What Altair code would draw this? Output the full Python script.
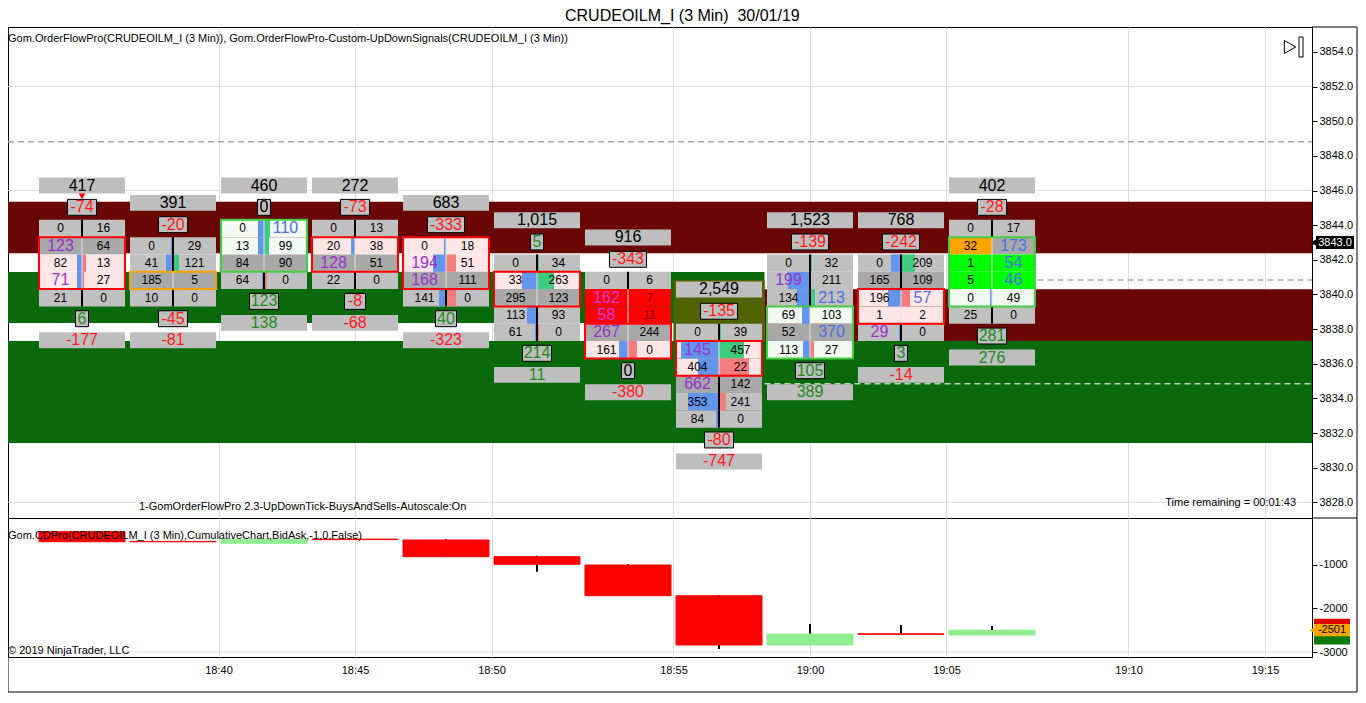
import json
import altair as alt
import pandas as pd

FONT = "Liberation Sans"

# ================= data =================
bar_times = ["18:36", "18:39", "18:42", "18:45", "18:48", "18:51", "18:54", "18:57", "19:00", "19:03", "19:06"]
bar_volume = [417, 391, 460, 272, 683, 1015, 916, 2549, 1523, 768, 402]
bar_delta = [-74, -20, 0, -73, -333, 5, -343, -135, -139, -242, -28]
signal_value = [6, -45, 123, -8, 40, 214, 0, -80, 105, 3, 281]
session_value = [-177, -81, 138, -68, -323, 11, -380, -747, 389, -14, 276]
bar_high = [3844, 3843, 3844, 3844, 3843, 3842, 3841, 3838, 3842, 3842, 3844]

bid_volume = [
    [0, 123, 82, 71, 21],
    [0, 41, 185, 10],
    [0, 13, 84, 64],
    [0, 20, 128, 22],
    [0, 194, 168, 141],
    [0, 33, 295, 113, 61],
    [0, 162, 58, 267, 161],
    [0, 145, 404, 662, 353, 84],
    [0, 199, 134, 69, 52, 113],
    [0, 165, 196, 1, 29],
    [0, 32, 1, 5, 0, 25],
]
ask_volume = [
    [16, 64, 13, 27, 0],
    [29, 121, 5, 0],
    [110, 99, 90, 0],
    [13, 38, 51, 0],
    [18, 51, 111, 0],
    [34, 263, 123, 93, 0],
    [6, 7, 11, 244, 0],
    [39, 457, 22, 142, 241, 0],
    [32, 211, 213, 103, 370, 27],
    [209, 109, 57, 2, 0],
    [17, 173, 54, 46, 49, 0],
]
# cell state: o outside, P point of control, s sell zone, b buy zone, R strong sell, L strong buy, O absorption
bid_state = ["oPsso", "ooPo", "bbPo", "osPo", "ssPo", "osPoo", "oRRPs", "ossPoo", "ooobPb", "oPsso", "oOLLbo"]
ask_state = ["oPsso", "ooPo", "bbPo", "osPo", "ssPo", "osPoo", "oRRPs", "ossPoo", "ooobPb", "oPsso", "oPLLbo"]
# imbalance flags: . none, p bid imbalance, a ask imbalance, m bid imbalance on strong sell, r ask on strong sell
bid_flag = [".p.p.", "....", "....", "..p.", ".pp.", ".....", ".mmp.", ".p.p..", ".p....", "....p", "......"]
ask_flag = [".....", "....", "a...", "....", "....", ".....", ".rr..", "......", "..a.a.", "..a..", ".aaa.."]
# relative volume histogram inside the cells
bid_bar = [[0, 0, 5, 5, 0], [2, 7, 0, 0], [6, 6, 0, 2], [0, 4, 0, 0], [2, 13, 0, 7], [0, 15, 0, 10, 2],
           [0, 0, 0, 0, 9], [0, 38, 21, 0, 31, 3], [0, 22, 13, 8, 0, 7], [10, 0, 13, 0, 2], [0, 0, 0, 0, 2, 0]]
ask_bar = [[0, 0, 4, 2, 0], [0, 6, 0, 0], [6, 5, 0, 3], [0, 0, 0, 0], [0, 10, 0, 10], [2, 17, 0, 0, 2],
           [0, 0, 0, 0, 9], [2, 25, 30, 0, 7, 0], [2, 0, 5, 0, 0, 4], [14, 0, 9, 0, 0], [0, 0, 0, 0, 0, 0]]
zone_kind = ["sell", "absorb", "buy", "sell", "sell", "sell", "sell", "sell", "buy", "sell", "buy"]
zone_first = [1, 2, 0, 1, 0, 1, 3, 1, 3, 2, 1]
zone_last = [3, 2, 2, 2, 2, 2, 4, 2, 5, 3, 4]
signal_down_bars = [0]

band_kind = ["resistance", "support", "active", "resistance", "support"]
band_top = [3845.35, 3841.30, 3840.85, 3840.30, 3837.32]
band_bottom = [3842.38, 3838.35, 3837.32, 3837.32, 3831.42]
band_start = ["start", "start", 6.5, 7.5, "start"]
band_end = ["end", 7.5, 7.5, "end", "end"]

level_price = [3848.82, 3840.84, 3834.84]
level_start = ["start", 10.5, 7.5]
level_kind = ["gray", "gray", "light"]

grid_prices = [3852, 3846, 3840, 3834, 3828]
price_ticks = [3854, 3852, 3850, 3848, 3846, 3844, 3842, 3840, 3838, 3836, 3834, 3832, 3830, 3828]
time_tick_pos = [1.5, 3, 4.5, 6.5, 8, 9.5, 11.5, 13]
time_tick_label = ["18:40", "18:45", "18:50", "18:55", "19:00", "19:05", "19:10", "19:15"]
price_last = 3843.0

cd_open = [-250, -472, -515, -420, -440, -822, -1011, -1713, -2840, -2585, -2611]
cd_close = [-479, -480, -424, -430, -822, -995, -1713, -2840, -2589, -2595, -2501]
cd_high = [-250, -472, -424, -420, -417, -800, -995, -1697, -2360, -2383, -2406]
cd_low = [-479, -480, -515, -430, -822, -1165, -1713, -2931, -2840, -2595, -2611]
cd_ticks = [-1000, -2000, -3000]
cd_grid = [-3000]
cd_last = -2501

title_text = "CRUDEOILM_I (3 Min)\u00a0 30/01/19"
main_label = "Gom.OrderFlowPro(CRUDEOILM_I (3 Min)), Gom.OrderFlowPro-Custom-UpDownSignals(CRUDEOILM_I (3 Min))"
mode_label = "1-GomOrderFlowPro 2.3-UpDownTick-BuysAndSells-Autoscale:On"
time_label = "Time remaining = 00:01:43"
cd_label = "Gom.CDPro(CRUDEOILM_I (3 Min),CumulativeChart,BidAsk,-1,0,False)"
copy_label = "\u00a9 2019 NinjaTrader, LLC"

# ================= layout / style =================
W = 1304
H_MAIN = 491
H_LOW = 139
FRAME_R = 1349
FRAME_B = 174
XMIN, XMAX = -0.8132, 13.5165
YMIN, YMAX = 3827.095, 3855.443
LMIN, LMAX = -3114, 63
PX = W / (XMAX - XMIN)
HALF = 43 / PX
ROW_SHIFT = -0.19
BOX_H = 0.46

state_fill = {"o": "#C0C0C0", "P": "#A8A8A8", "s": "#FFE6E6", "b": "#F0FAF0",
              "R": "#FF0000", "L": "#00FF00", "O": "#FFA500"}
flag_style = {".": ("#000000", 12), "p": ("#9932CC", 16), "a": ("#4A6FE3", 16),
              "m": ("#D23CE0", 16), "r": ("#800000", 12)}
zone_color = {"sell": "#FF0000", "buy": "#44CC44", "absorb": "#F5A300"}
band_color = {"resistance": "#6A0606", "support": "#0A690A", "active": "#4F6300"}
level_color = {"gray": "#A6A6A6", "light": "#B8D4B8"}
BLUE, GREENH, SALMON = "#6495ED", "#3CCB7F", "#F47C7C"
RED, GREEN = "#FF1A1A", "#228B22"


def vcolor(v):
    return RED if v < 0 else (GREEN if v > 0 else "#000000")


def xpos(v, default):
    return default if isinstance(v, str) else v


# ================= build tables =================
cells, ctext, hists, seps, borders = [], [], [], [], []
for i in range(len(bar_times)):
    n = len(bid_volume[i])
    for k in range(n):
        p = bar_high[i] - k + ROW_SHIFT
        inside = zone_first[i] <= k <= zone_last[i]
        b, a = bid_volume[i][k], ask_volume[i][k]
        for vol, st, fl, sgn in ((b, bid_state[i][k], bid_flag[i][k], -1),
                                 (a, ask_state[i][k], ask_flag[i][k], 1)):
            x0, x1 = (i - HALF, i) if sgn < 0 else (i, i + HALF)
            cells.append(dict(x0=x0, x1=x1, y0=p + 0.5, y1=p - 0.5, fill=state_fill[st]))
            col, fs = flag_style[fl]
            ctext.append(dict(x=i + sgn * HALF / 2, y=p, label=str(vol), c=col, s=fs))
        lb, la = bid_bar[i][k], ask_bar[i][k]
        if lb:
            hists.append(dict(x0=i - lb / PX, x1=i, y0=p + 0.5, y1=p - 0.5, fill=BLUE))
        if la:
            hists.append(dict(x0=i, x1=i + la / PX, y0=p + 0.5, y1=p - 0.5,
                              fill=GREENH if a > b else SALMON))
        dark = (not inside) and bid_state[i][k] in "oP"
        seps.append(dict(x=i, y0=p + 0.5, y1=p - 0.5, c="#000000" if dark else "#E2E2E2",
                         w=2 if dark else 1))
    borders.append(dict(x0=i - HALF, x1=i + HALF,
                        y0=bar_high[i] - zone_first[i] + 0.5 + ROW_SHIFT,
                        y1=bar_high[i] - zone_last[i] - 0.5 + ROW_SHIFT,
                        c=zone_color[zone_kind[i]]))

wide, narrow, htext, sig = [], [], [], []
for i in range(len(bar_times)):
    top = bar_high[i] + ROW_SHIFT
    bot = bar_high[i] - (len(bid_volume[i]) - 1) + ROW_SHIFT
    for yc, v, kind in ((top + 2.48, bar_volume[i], "vol"), (top + 1.22, bar_delta[i], "delta"),
                        (bot - 1.21, signal_value[i], "sig"), (bot - 2.45, session_value[i], "sess")):
        label = f"{v:,}"
        if kind in ("vol", "sess"):
            wide.append(dict(x0=i - HALF, x1=i + HALF, y0=yc + BOX_H, y1=yc - BOX_H))
        else:
            hw = (8 * len(label) + 5) / PX / 2
            narrow.append(dict(x0=i - hw, x1=i + hw, y0=yc + BOX_H, y1=yc - BOX_H))
        htext.append(dict(x=i, y=yc, label=label, c="#000000" if kind == "vol" else vcolor(v)))
    if i in signal_down_bars:
        sig.append(dict(x=i, y=top + 1.85))

bands = pd.DataFrame(dict(
    x0=[xpos(v, XMIN) for v in band_start], x1=[xpos(v, XMAX) for v in band_end],
    y0=band_top, y1=band_bottom, fill=[band_color[k] for k in band_kind]))
levels = pd.DataFrame(dict(
    x0=[xpos(v, XMIN) for v in level_start], x1=[XMAX] * len(level_price),
    p=level_price, c=[level_color[k] for k in level_kind]))
grid = pd.DataFrame(dict(p=grid_prices, x0=[XMIN] * len(grid_prices), x1=[XMAX] * len(grid_prices)))

xs = alt.Scale(domain=[XMIN, XMAX], nice=False, zero=False)
ys = alt.Scale(domain=[YMIN, YMAX], nice=False, zero=False)
ls = alt.Scale(domain=[LMIN, LMAX], nice=False, zero=False)

xax_main = alt.Axis(values=time_tick_pos, grid=True, gridColor="#DCDCDC", gridWidth=1,
                    labels=False, ticks=False, domain=False, title=None)
yax_main = alt.Axis(orient="right", values=price_ticks, format=".1f", grid=False, tickSize=5,
                    tickColor="black", domainColor="black", labelColor="black", labelFontSize=11,
                    labelFont=FONT, labelPadding=2, title=None)
label_expr = "%s[indexof(%s, datum.value)]" % (json.dumps(time_tick_label), json.dumps(time_tick_pos))
xax_low = alt.Axis(values=time_tick_pos, labelExpr=label_expr, grid=True, gridColor="#DCDCDC",
                   ticks=False, domain=False, labelColor="black", labelFontSize=11, labelFont=FONT,
                   labelPadding=7, labelFlush=False, labelOverlap=False, title=None)
yax_low = alt.Axis(orient="right", values=cd_ticks, labelExpr="'' + datum.value", grid=False,
                   tickSize=5, tickColor="black", domainColor="black", labelColor="black",
                   labelFontSize=11, labelFont=FONT, labelPadding=2, title=None)


def X(f):
    return alt.X(f, type="quantitative", scale=xs, axis=xax_main)


def Y(f):
    return alt.Y(f, type="quantitative", scale=ys, axis=yax_main)


def XL(f):
    return alt.X(f, type="quantitative", scale=xs, axis=xax_low)


def YL(f):
    return alt.Y(f, type="quantitative", scale=ls, axis=yax_low)


def rects(df, **mk):
    return alt.Chart(pd.DataFrame(df)).mark_rect(**mk).encode(
        x=X("x0"), x2=alt.X2("x1"), y=Y("y0"), y2=alt.Y2("y1"),
        color=alt.Color("fill:N", scale=None))


def note(text, x, y, align="left", size=11, color="black"):
    return alt.Chart(pd.DataFrame({"t": [text]})).mark_text(
        align=align, baseline="middle", fontSize=size, color=color, font=FONT).encode(
        x=alt.value(x), y=alt.value(y), text="t:N")


def vline(x, y0, y1):
    return alt.Chart(pd.DataFrame({"a": [0]})).mark_rule(color="black", strokeWidth=1).encode(
        x=alt.value(x), y=alt.value(y0), y2=alt.value(y1))


def hline(y, x0, x1):
    return alt.Chart(pd.DataFrame({"a": [0]})).mark_rule(color="black", strokeWidth=1).encode(
        y=alt.value(y), x=alt.value(x0), x2=alt.value(x1))


grid_layer = alt.Chart(grid).mark_rule(color="#DCDCDC", strokeWidth=1).encode(
    x=X("x0"), x2=alt.X2("x1"), y=Y("p"))
band_layer = rects(bands, clip=True)
level_layer = alt.Chart(levels).mark_rule(strokeDash=[6, 4], strokeWidth=1.5).encode(
    x=X("x0"), x2=alt.X2("x1"), y=Y("p"), color=alt.Color("c:N", scale=None))
cell_layer = rects(cells)
hist_layer = rects(hists)
sep_layer = alt.Chart(pd.DataFrame(seps)).mark_rule().encode(
    x=X("x"), y=Y("y0"), y2=alt.Y2("y1"), color=alt.Color("c:N", scale=None),
    strokeWidth=alt.StrokeWidth("w:Q", scale=None))
border_layer = alt.Chart(pd.DataFrame(borders)).mark_rect(filled=False, strokeWidth=2).encode(
    x=X("x0"), x2=alt.X2("x1"), y=Y("y0"), y2=alt.Y2("y1"), color=alt.Color("c:N", scale=None))
wide_layer = alt.Chart(pd.DataFrame(wide)).mark_rect(color="#BEBEBE").encode(
    x=X("x0"), x2=alt.X2("x1"), y=Y("y0"), y2=alt.Y2("y1"))
narrow_layer = alt.Chart(pd.DataFrame(narrow)).mark_rect(
    fill="#BEBEBE", stroke="black", strokeWidth=1).encode(
    x=X("x0"), x2=alt.X2("x1"), y=Y("y0"), y2=alt.Y2("y1"))
ctext_layer = alt.Chart(pd.DataFrame(ctext)).mark_text(baseline="middle", font=FONT).encode(
    x=X("x"), y=Y("y"), text="label:N", color=alt.Color("c:N", scale=None),
    size=alt.Size("s:Q", scale=None))
htext_layer = alt.Chart(pd.DataFrame(htext)).mark_text(baseline="middle", font=FONT, fontSize=16).encode(
    x=X("x"), y=Y("y"), text="label:N", color=alt.Color("c:N", scale=None))
sig_layer = alt.Chart(pd.DataFrame(sig)).mark_point(
    shape="triangle-down", filled=True, size=45, color="#FF0000", opacity=1).encode(x=X("x"), y=Y("y"))

tag_df = pd.DataFrame({"p": [price_last], "t": [f"{price_last:.1f}"]})
tag_rect = alt.Chart(tag_df).transform_calculate(
    a="datum.p + 0.38", b="datum.p - 0.38").mark_rect(color="black").encode(
    x=alt.value(1308), x2=alt.value(1346), y=Y("a:Q"), y2=alt.Y2("b"))
tag_arrow = alt.Chart(tag_df).mark_point(shape="triangle-left", filled=True, color="black",
                                         size=60, opacity=1).encode(x=alt.value(1306), y=Y("p"))
tag_text = alt.Chart(tag_df).mark_text(color="white", fontSize=11, font=FONT, baseline="middle").encode(
    x=alt.value(1327), y=Y("p"), text="t:N")

icon_tri = alt.Chart(pd.DataFrame({"a": [0]})).mark_point(
    shape="triangle-right", filled=False, color="black", size=170, strokeWidth=1, opacity=1).encode(
    x=alt.value(1282), y=alt.value(20))
icon_bar = alt.Chart(pd.DataFrame({"a": [0]})).mark_rect(fill="white", stroke="black", strokeWidth=1).encode(
    x=alt.value(1291), x2=alt.value(1295), y=alt.value(10), y2=alt.value(30))

main = alt.layer(
    grid_layer, band_layer, level_layer, cell_layer, hist_layer, sep_layer, border_layer,
    wide_layer, narrow_layer, ctext_layer, htext_layer, sig_layer,
    note(main_label, 0, 12), note(mode_label, 131, 480), note(time_label, 1288, 476, align="right"),
    icon_tri, icon_bar, tag_rect, tag_arrow, tag_text,
    vline(FRAME_R, 0, H_MAIN), hline(0, W, FRAME_R), hline(H_MAIN, W, FRAME_R),
).properties(width=W, height=H_MAIN)

# ---------------- lower panel ----------------
cd = pd.DataFrame(dict(x=list(range(len(cd_open))), o=cd_open, c=cd_close, hi=cd_high, lo=cd_low))
cd["x0"] = cd["x"] - HALF
cd["x1"] = cd["x"] + HALF
cd["fill"] = ["#90EE90" if c >= o else "#FF0000" for o, c in zip(cd_open, cd_close)]

lgrid = alt.Chart(pd.DataFrame({"v": cd_grid, "x0": [XMIN], "x1": [XMAX]})).mark_rule(
    color="#DCDCDC").encode(x=XL("x0"), x2=alt.X2("x1"), y=YL("v"))
wicks = alt.Chart(cd).mark_rule(color="black", strokeWidth=2).encode(
    x=XL("x"), y=YL("hi"), y2=alt.Y2("lo"))
bodies = alt.Chart(cd).mark_rect(strokeWidth=1).encode(
    x=XL("x0"), x2=alt.X2("x1"), y=YL("o"), y2=alt.Y2("c"),
    color=alt.Color("fill:N", scale=None), stroke=alt.Stroke("fill:N", scale=None))

ltag = pd.DataFrame({"v": [cd_last], "t": [str(cd_last)]})
ltag_red = alt.Chart(ltag).transform_calculate(a="datum.v + 260", b="datum.v - 40").mark_rect(
    color="#E00000").encode(x=alt.value(1306), x2=alt.value(1342), y=YL("a:Q"), y2=alt.Y2("b"))
ltag_green = alt.Chart(ltag).transform_calculate(a="datum.v - 40", b="datum.v - 330").mark_rect(
    color="#0A7A0A").encode(x=alt.value(1306), x2=alt.value(1342), y=YL("a:Q"), y2=alt.Y2("b"))
ltag_or = alt.Chart(ltag).transform_calculate(a="datum.v + 140", b="datum.v - 140").mark_rect(
    color="#FFA500").encode(x=alt.value(1306), x2=alt.value(1342), y=YL("a:Q"), y2=alt.Y2("b"))
ltag_arrow = alt.Chart(ltag).mark_point(shape="triangle-left", filled=True, color="#FFA500",
                                        size=60, opacity=1).encode(x=alt.value(1305), y=YL("v"))
ltag_text = alt.Chart(ltag).mark_text(color="black", fontSize=11, font=FONT, baseline="middle").encode(
    x=alt.value(1324), y=YL("v"), text="t:N")

low = alt.layer(
    lgrid, wicks, bodies, note(cd_label, 0, 18), note(copy_label, 0, 133),
    ltag_red, ltag_green, ltag_or, ltag_arrow, ltag_text,
    vline(FRAME_R, 0, FRAME_B), vline(0, H_LOW, FRAME_B), hline(FRAME_B, 0, FRAME_R),
).properties(width=W, height=H_LOW)

chart = alt.vconcat(
    main, low, spacing=0, bounds="flush",
    padding={"left": -2, "right": 0, "top": 0, "bottom": 0},
    title=alt.TitleParams(title_text, fontSize=16, fontWeight="normal", anchor="middle",
                          offset=2, color="black", font=FONT),
).configure_view(stroke="black", strokeWidth=1).configure_text(font=FONT)

chart.save("out.html", embed_options={"renderer": "svg", "actions": False})
